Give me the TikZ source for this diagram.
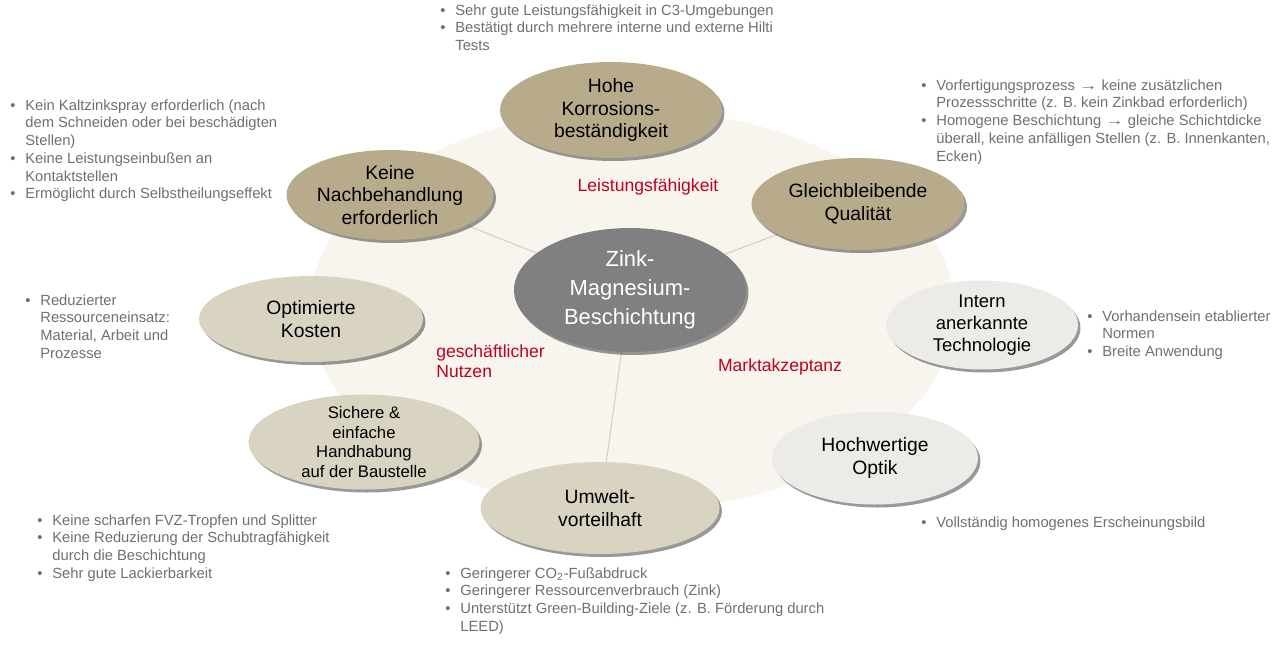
\documentclass[tikz,border=0pt]{standalone}
\usepackage{fontspec}
\setmainfont{Liberation Sans}
\usetikzlibrary{shapes}
\usetikzlibrary{shadows}
\usetikzlibrary{backgrounds}

\definecolor{tanD}{HTML}{B8AB8B}
\definecolor{tanL}{HTML}{D9D3C2}
\definecolor{greyL}{HTML}{ECEBE7}
\definecolor{coreGrey}{HTML}{808080}
\definecolor{backdrop}{HTML}{F8F5EF}
\definecolor{noteGrey}{HTML}{6F6F6F}
\definecolor{tagRed}{HTML}{C00020}
\definecolor{spokeCol}{HTML}{D6D0C2}

\newcommand{\bitem}{\makebox[0.3cm][l]{\textbullet}}
\newcommand{\bcont}{\hspace*{0.3cm}}
\newcommand{\tto}{\scalebox{1.25}[1]{→}}

\begin{document}
\begin{tikzpicture}[x=0.02cm, y=-0.02cm,
  bubble/.style={ellipse, inner sep=0pt, align=center, text=black,
    font=\fontsize{11}{13}\selectfont,
    drop shadow={shadow xshift=0.05cm, shadow yshift=-0.06cm, fill=black, opacity=.4}},
  darkbubble/.style={bubble, fill=tanD},
  lightbubble/.style={bubble, fill=tanL},
  greybubble/.style={bubble, fill=greyL},
  notes/.style={anchor=north west, inner sep=0pt, align=left, text=noteGrey,
    font=\fontsize{8.4}{10.1}\selectfont},
  tag/.style={text=tagRed, inner sep=0pt, align=left, font=\fontsize{10}{11.4}\selectfont},
  spoke/.style={draw=spokeCol, line width=0.6pt}]

\useasboundingbox (0,0) rectangle (1273,647);

% centre
\node[bubble, fill=coreGrey, text=white, font=\fontsize{12.5}{16.4}\selectfont,
  minimum width=4.64cm, minimum height=2.48cm] (zm) at (630,290)
  {Zink-\\Magnesium-\\Beschichtung};

% benefits
\node[darkbubble, minimum width=4.44cm, minimum height=1.92cm] (hk) at (611,110)
  {Hohe\\Korrosions-\\beständigkeit};
\node[darkbubble, minimum width=4.26cm, minimum height=1.84cm] (gq) at (858,204)
  {Gleichbleibende\\Qualität};
\node[darkbubble, minimum width=4.14cm, minimum height=1.80cm] (kn) at (390,195)
  {Keine\\Nachbehandlung\\erforderlich};
\node[lightbubble, minimum width=4.48cm, minimum height=1.72cm] (ok) at (311,319)
  {Optimierte\\Kosten};
\node[greybubble, font=\fontsize{10.5}{12.7}\selectfont,
  minimum width=3.84cm, minimum height=1.78cm] (it) at (982,325)
  {Intern\\anerkannte\\Technologie};
\node[lightbubble, inner ysep=-3.5pt, font=\fontsize{9.5}{11.3}\selectfont,
  minimum width=4.62cm, minimum height=1.90cm] (sh) at (364,442)
  {Sichere \&\\einfache\\Handhabung\\auf der Baustelle};
\node[lightbubble, minimum width=4.78cm, minimum height=1.84cm] (uv) at (600,508)
  {Umwelt-\\vorteilhaft};
\node[greybubble, minimum width=4.12cm, minimum height=1.86cm] (ho) at (875,458)
  {Hochwertige\\Optik};

% group labels
\node[tag] (lf) at (648,187) {Leistungsfähigkeit};
\node[tag, anchor=west] (gn) at (436,361) {geschäftlicher\\Nutzen};
\node[tag] (ma) at (780,367) {Marktakzeptanz};

% bullet notes
\node[notes] (n1) at (440,4)
  {\bitem Sehr gute Leistungsfähigkeit in C3-Umgebungen\\
   \bitem Bestätigt durch mehrere interne und externe Hilti\\
   \bcont Tests};
\node[notes] (n2) at (10,99)
  {\bitem Kein Kaltzinkspray erforderlich (nach\\
   \bcont dem Schneiden oder bei beschädigten\\
   \bcont Stellen)\\
   \bitem Keine Leistungseinbußen an\\
   \bcont Kontaktstellen\\
   \bitem Ermöglicht durch Selbstheilungseffekt};
\node[notes] (n3) at (921,79)
  {\bitem Vorfertigungsprozess \tto{} keine zusätzlichen\\
   \bcont Prozessschritte (z. B. kein Zinkbad erforderlich)\\
   \bitem Homogene Beschichtung \tto{} gleiche Schichtdicke\\
   \bcont überall, keine anfälligen Stellen (z. B. Innenkanten,\\
   \bcont Ecken)};
\node[notes] (n4) at (25,294)
  {\bitem Reduzierter\\
   \bcont Ressourceneinsatz:\\
   \bcont Material, Arbeit und\\
   \bcont Prozesse};
\node[notes] (n5) at (1087,310)
  {\bitem Vorhandensein etablierter\\
   \bcont Normen\\
   \bitem Breite Anwendung};
\node[notes] (n6) at (37,514)
  {\bitem Keine scharfen FVZ-Tropfen und Splitter\\
   \bitem Keine Reduzierung der Schubtragfähigkeit\\
   \bcont durch die Beschichtung\\
   \bitem Sehr gute Lackierbarkeit};
\node[notes] (n7) at (445,567)
  {\bitem Geringerer CO\textsubscript{2}-Fußabdruck\\
   \bitem Geringerer Ressourcenverbrauch (Zink)\\
   \bitem Unterstützt Green-Building-Ziele (z. B. Förderung durch\\
   \bcont LEED)};
\node[notes] (n8) at (921,516)
  {\bitem Vollständig homogenes Erscheinungsbild};

% backdrop and spokes
\begin{scope}[on background layer]
  \fill[backdrop] (632,310) ellipse [x radius=6.45cm, y radius=4cm];
  \draw[spoke] (zm.center) -- (kn.center);
  \draw[spoke] (zm.center) -- (gq.center);
  \draw[spoke] (zm.center) -- (uv.center);
\end{scope}

\end{tikzpicture}
\end{document}
